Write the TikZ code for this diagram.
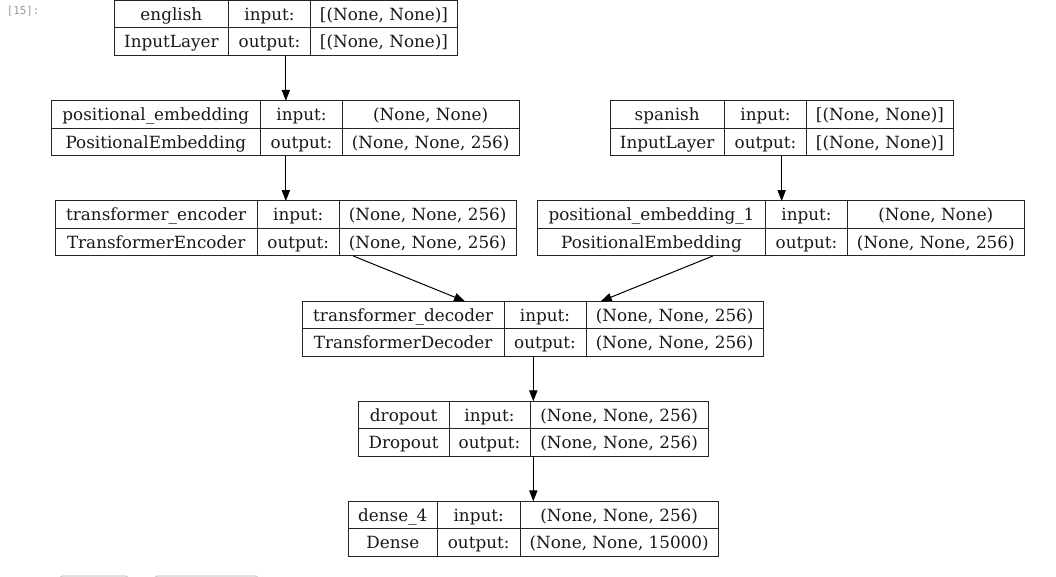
\documentclass[tikz,border=0pt]{standalone}
\usepackage{fontspec}
\setmainfont{DejaVu Serif}
\newfontfamily\monofam{DejaVu Sans Mono}
\usetikzlibrary{arrows.meta,fit}
\tikzset{
  lbox/.style={draw=black!85, line width=0.75pt, inner sep=0pt, outer sep=0pt},
  cell/.style={inner sep=0pt, anchor=center, text height=9.2pt, text depth=0pt,
    font=\fontsize{12.6pt}{15pt}\selectfont, text=black!90},
  conn/.style={draw=black, line width=0.75pt, -{Triangle[length=8.2pt,width=6.2pt]}},
  sepline/.style={draw=black!85, line width=0.75pt}
}
\def\parsefive#1/#2/#3/#4/#5\relax{\def\xL{#1}\def\xA{#2}\def\xB{#3}\def\xR{#4}\def\yT{#5}}
\newcommand\layer[6]{%
  \parsefive#2\relax
  \pgfmathsetmacro\yM{\yT+27.3}%
  \pgfmathsetmacro\yB{\yT+55}%
  \coordinate (#1-tl) at (\xL,\yT);
  \coordinate (#1-br) at (\xR,\yB);
  \node[lbox, fit=(#1-tl)(#1-br)] (#1) {};
  \draw[sepline] (\xL,\yM) -- (\xR,\yM);
  \draw[sepline] (\xA,\yT) -- (\xA,\yB);
  \draw[sepline] (\xB,\yT) -- (\xB,\yB);
  \node[cell] (#1-n) at ({(\xL+\xA)/2},{(\yT+\yM)/2}) {#3};
  \node[cell] (#1-c) at ({(\xL+\xA)/2},{(\yM+\yB)/2}) {#4};
  \node[cell] (#1-i) at ({(\xA+\xB)/2},{(\yT+\yM)/2}) {input:};
  \node[cell] (#1-o) at ({(\xA+\xB)/2},{(\yM+\yB)/2}) {output:};
  \node[cell] (#1-is) at ({(\xB+\xR)/2},{(\yT+\yM)/2}) {#5};
  \node[cell] (#1-os) at ({(\xB+\xR)/2},{(\yM+\yB)/2}) {#6};
}
\begin{document}
\begin{tikzpicture}[x=0.75pt,y=-0.75pt]
\useasboundingbox[fill=white] (0,0) rectangle (1056,577);

\node[inner sep=0pt, anchor=west, text=black!40, font=\monofam\fontsize{8.1pt}{10pt}\selectfont] (cellno) at (6.5,11.5) {[15]:};

\layer{eng}{114/228.7/310.3/457.7/0.7}{english}{InputLayer}{[(None, None)]}{[(None, None)]}
\layer{pe}{51/260.7/342.3/519/100.8}{positional\_embedding}{PositionalEmbedding}{(None, None)}{(None, None, 256)}
\layer{spa}{610/724.3/806.7/953.3/100.8}{spanish}{InputLayer}{[(None, None)]}{[(None, None)]}
\layer{enc}{55/257.3/339.3/516/201}{transformer\_encoder}{TransformerEncoder}{(None, None, 256)}{(None, None, 256)}
\layer{pea}{537.3/765.7/847.3/1024.3/201}{positional\_embedding\_1}{PositionalEmbedding}{(None, None)}{(None, None, 256)}
\layer{dec}{302.3/504/586/763.3/301.3}{transformer\_decoder}{TransformerDecoder}{(None, None, 256)}{(None, None, 256)}
\layer{drop}{358.3/449/530/708.3/401.3}{dropout}{Dropout}{(None, None, 256)}{(None, None, 256)}
\layer{dense}{348.3/437.3/520/718.3/501.3}{dense\_4}{Dense}{(None, None, 256)}{(None, None, 15000)}

\draw[conn] (eng.south) -- (eng.south |- pe.north);
\draw[conn] (pe.south -| eng.south) -- (eng.south |- enc.north);
\draw[conn] (spa.south) -- (spa.south |- pea.north);
\draw[conn] (enc) -- (dec);
\draw[conn] (pea) -- (dec);
\draw[conn] (drop.north |- dec.south) -- (drop.north);
\draw[conn] (drop.south) -- (drop.south |- dense.north);

\draw[black!18, line width=1pt, rounded corners=2pt] (60,576) rectangle (128,600);
\draw[black!18, line width=1pt, rounded corners=2pt] (155,576) rectangle (258,600);
\end{tikzpicture}
\end{document}
